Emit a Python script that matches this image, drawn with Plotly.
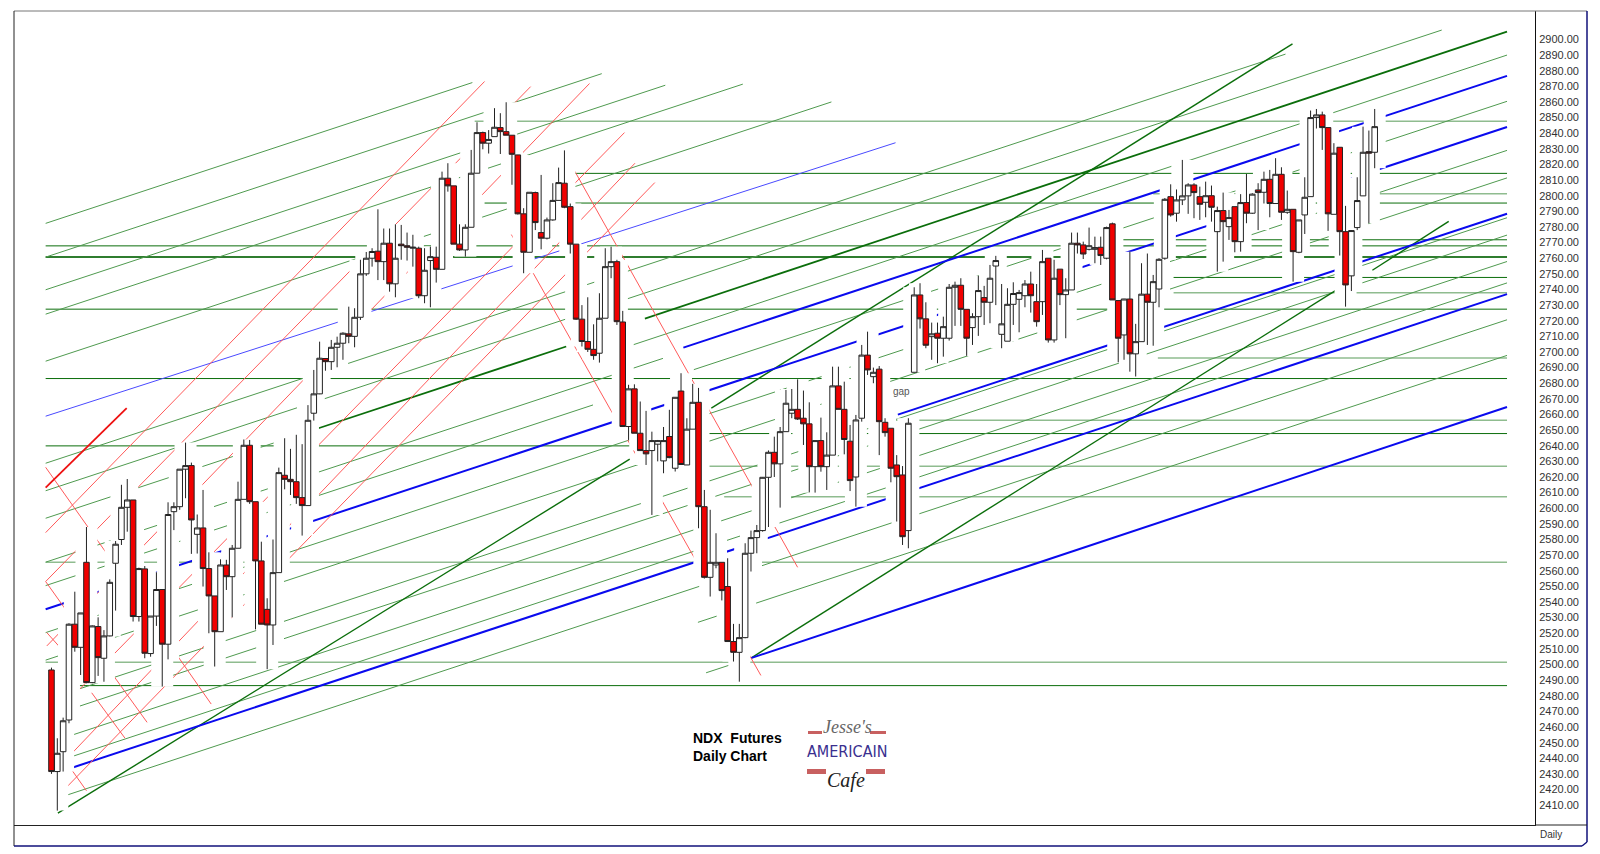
import plotly.graph_objects as go

# ---- candles ----
opens = [2496.5,2431.5,2444.2,2464.5,2525.8,2511,2565.4,2488.4,2524.3,2504,
2518.3,2564.8,2580,2600.6,2605.3,2530.7,2561.2,2507,2531,2548,
2513,2597.8,2601,2625,2627.3,2583.3,2587.4,2561.4,2543.9,2521,
2563.7,2556.2,2574.4,2605.7,2640.3,2604.2,2566.3,2535.3,2525.3,2558.8,
2621.1,2618.5,2617,2606.8,2601.7,2660.8,2673.2,2695.8,2693.8,2703,
2705.6,2711.6,2710,2722.2,2750,2760,2764.5,2757.8,2769.6,2743.6,
2769,2768,2766.4,2766.4,2736,2758.5,2760.6,2752.9,2811.2,2806.3,
2769,2765.3,2779.8,2814.4,2840.4,2833.6,2837.8,2843.6,2841,2838.7,
2826.1,2788.4,2763.8,2802,2776.4,2772.8,2784.5,2797,2808,2793,
2769,2721,2706.7,2701.7,2699.2,2721.6,2754.6,2757.8,2719.2,2652.3,
2676.4,2648,2636.9,2636.9,2641,2630.3,2645.9,2625.6,2675,2627.7,
2650.6,2667.8,2601,2555.8,2563.7,2565.4,2549.9,2514.7,2507.8,2517.2,
2571.2,2581.2,2585.7,2619.8,2635.8,2628.4,2649,2660.8,2663.3,2657.6,
2654,2626.6,2643.3,2626.6,2634,2678.3,2663.3,2642.9,2620,2657.6,
2698,2684.2,2689,2655,2651.2,2627.7,2621.3,2585.7,2687,2736.5,
2721.2,2709.8,2712,2708.8,2708.8,2741.4,2742.7,2727.3,2715.6,2722.6,
2734.8,2731.8,2755,2711.3,2706.9,2730.5,2733.7,2736,2743.5,2732.2,
2732.2,2760,2707.7,2753,2736.7,2739.7,2769.6,2768.5,2765.7,2765.7,
2767,2760,2782,2732.9,2710.9,2733.9,2698.8,2706.6,2737,2731.8,
2740.3,2760,2799.4,2788.8,2797.3,2799.9,2806.9,2799.4,2795.8,2800,
2777,2790.5,2780.2,2793,2770.6,2795.6,2788.8,2803.7,2802.2,2810.5,
2795,2813.7,2789.4,2791.3,2763.8,2787.7,2799.4,2850,2851.7,2843.6,
2788.1,2831,2777,2748.7,2779.6,2799.9,2828.2,2827.8]
closes = [2431.5,2443.2,2464,2525.8,2511,2533,2488.4,2524.7,2504.4,2518.3,
2552.6,2577,2600.6,2605.3,2530.7,2561.4,2507.2,2531,2548,2513,
2596,2601,2625,2627.3,2592.5,2587.4,2561.4,2543.9,2521,2563.7,
2556.2,2574.4,2605.7,2640.3,2604.2,2566.3,2525.8,2525.3,2558.8,2622.8,
2618.5,2617,2606.8,2601.7,2656.3,2673.2,2696,2693.8,2703,2705.6,
2712,2710,2722.2,2750,2760,2764.3,2757.8,2769.6,2743.6,2760,
2768,2767,2767,2736,2752.3,2761,2752.9,2811.2,2806.3,2769,
2765.3,2779.8,2814.4,2840.4,2833.6,2836,2843.8,2841,2838.7,2826.5,
2788.4,2763.8,2802.2,2782.8,2772.8,2784.5,2797,2808.4,2792.6,2769,
2721,2706.7,2701.7,2697.7,2721.6,2754.6,2757.8,2719.4,2652.3,2676.4,
2648,2636.9,2634.8,2643.3,2643.3,2643.3,2632.4,2671,2628,2650.6,
2667.8,2601,2555.8,2565.4,2565.4,2547.3,2514.7,2507.8,2517.2,2571.2,
2581.2,2585.7,2619.8,2635.8,2628.4,2649,2667.2,2663.3,2657.1,2654,
2626.6,2643.3,2626.6,2634,2678.3,2663.3,2644,2617.7,2656.5,2698,
2688.5,2687,2655.4,2648.4,2625.6,2620.2,2581.8,2654.4,2736.5,2721.2,
2704.3,2711.6,2708.8,2716.2,2741.4,2742.7,2727.3,2708.8,2722.6,2739.3,
2731.8,2747.2,2758.5,2718,2730.5,2737.4,2738,2743.5,2736,2719.4,
2757.8,2707.7,2747.2,2736.7,2739.7,2769.6,2768.5,2762.7,2768,2766.8,
2761.7,2779.6,2733.3,2708.8,2733.9,2698.8,2706.6,2737,2731.8,2745,
2759.3,2797.7,2787.7,2797.3,2799.9,2806.9,2802,2794.5,2800,2792.6,
2790.5,2783.4,2786,2770.6,2795.6,2788.8,2801,2802,2810.5,2795,
2813.7,2789.4,2791.3,2764.2,2784.5,2799,2850,2851.7,2843.6,2788.4,
2827.2,2777,2742.9,2777.7,2796.9,2827.8,2827.2,2844.2]
highs = [2498,2452.8,2466,2526.4,2546.6,2533,2588,2525,2530.2,2522,
2554.5,2579,2615,2618.7,2605.3,2562,2563,2531,2559,2548,
2603.8,2603.8,2625,2642,2629.2,2596,2611.7,2571.8,2543.9,2567.3,
2567,2576.5,2617,2644,2643.7,2604.2,2578.6,2542.4,2580,2626,
2644.8,2638,2647,2641,2666,2688.5,2706.6,2696,2707.7,2709.8,
2712.6,2729,2728,2759,2764,2766.4,2791.3,2779,2779,2781.7,
2781.3,2776.4,2775,2767.4,2766.4,2767.4,2767.4,2815.4,2820.8,2806.3,
2781.7,2781.7,2829.3,2847,2841,2842,2856,2852.8,2859.8,2838.7,
2826,2792,2802.2,2802.6,2813.3,2786,2808,2818,2829,2795,
2769,2730,2735,2717.7,2737.6,2766.4,2767.4,2759,2726.3,2679,
2679.3,2668.3,2662.3,2649,2643.7,2652,2663,2671,2686.4,2657.6,
2679.6,2677,2611.7,2599,2584,2565.4,2568,2526,2526,2577.6,
2585.7,2589.3,2620,2637,2645.8,2652,2675.7,2676.3,2682.5,2675.3,
2667.8,2643.3,2658,2648.6,2690.6,2690.6,2681,2653.3,2659.7,2704.5,
2713,2690,2691,2657.6,2651.2,2634,2627,2657.6,2741.4,2744,
2731.8,2718.8,2718.8,2722.6,2743.5,2745,2747.2,2727.3,2724.8,2748.7,
2742.3,2755.7,2761.5,2743.5,2740.8,2744.6,2739.7,2746,2751.4,2743.5,
2765.3,2760,2759,2753,2747.2,2776.4,2776.4,2770.6,2779.6,2773.8,
2773.8,2780.2,2782.8,2732.9,2734,2764.2,2718,2756.8,2763,2749.3,
2760,2798.5,2807.3,2804,2822.9,2808,2808,2805.8,2809,2806.5,
2793,2802,2790.9,2793,2801,2813.9,2801.6,2808,2815.4,2816.5,
2824,2818.2,2803.3,2791.3,2784.5,2811.8,2854.5,2855.5,2853.8,2843.6,
2833.6,2831,2793.5,2778,2811.8,2844.2,2841.7,2855.5]
lows = [2430,2406.5,2431.5,2462.4,2508.2,2493.3,2488,2488,2492.7,2489,
2518,2534.5,2576.5,2585,2527.5,2527.5,2504,2505,2524.7,2485.9,
2503.3,2586,2599,2606.4,2570.8,2571,2549.9,2520,2498.7,2521,
2547.7,2530.2,2574.4,2605.7,2602.8,2522.5,2525.8,2497,2512.5,2558.8,
2612.1,2608.5,2602.8,2582.5,2601.7,2656.1,2673,2688,2688.5,2690.2,
2695,2705.6,2703,2720.5,2748.7,2754.6,2746,2746,2738.6,2735,
2759,2758.5,2754.6,2734.4,2731.2,2728.6,2744.4,2752.9,2802.6,2769,
2764.7,2761,2779.8,2814.4,2829.7,2827,2837.8,2826.7,2838.7,2807,
2788,2750.4,2763.8,2778,2765.7,2772,2784,2797,2792,2763,
2720.5,2703.5,2700,2695,2693.2,2721.6,2747.2,2717.3,2652.3,2643.7,
2648,2636.9,2627.7,2595.7,2630,2622.4,2632,2623.5,2628,2627.7,
2650.6,2587.2,2555,2543.5,2561.6,2541,2514.7,2501.9,2489,2516.8,
2559.5,2571.2,2585,2588,2620,2600.4,2649,2657.6,2656.5,2640.5,
2610.2,2610,2623.4,2611.7,2634,2663.3,2634.5,2611,2601,2655.4,
2685.3,2680,2634,2645.8,2616.6,2591.5,2576.5,2574.4,2687,2715,
2702.4,2695,2692.8,2697,2707.3,2716.7,2716.7,2697.5,2704.5,2710.3,
2717.3,2718.4,2730,2702.4,2706.9,2717.3,2712.6,2728.6,2725.2,2716.2,
2723.7,2706,2706,2730,2708.8,2739.7,2763,2759.5,2765,2756.8,
2755.7,2759.3,2733.3,2693.4,2695,2687.4,2684.3,2706.6,2704.5,2704,
2728.6,2759,2786.6,2783.4,2794,2788.4,2785.6,2784.5,2786.2,2783.4,
2751.4,2757.8,2771.7,2763.8,2764.2,2782.4,2788.4,2778,2795,2786.2,
2795,2784.5,2788.4,2745,2763.2,2775.5,2799.4,2843,2829.3,2777.5,
2788.1,2761.7,2729,2739,2778,2799.9,2782.4,2817.6]
bars = list(range(len(opens)))

# ---- trend lines: (bar0, price0, bar1, price1) ----
green_thin = [(-1,2782.3,72.2,2872.4),(-1,2760.7,94.4,2878.1),(-1,2739.8,105.3,2870.7),
 (-1,2724.2,118.6,2871.4),(-1,2694.1,133.8,2860),(-1,2628.8,211.7,2890.6),
 (-1,2611.2,238.5,2906),(-1,2593.6,45.8,2651.2),(99.3,2704,249.7,2890),
 (-1,2565.5,104.9,2695.9),(-1,2550.5,92.9,2666.1),(110.2,2688.7,249.7,2860.4),
 (-1,2520.4,249.7,2829),(-1,2502.8,249.7,2811.4),(-1,2477.3,249.7,2785.9),
 (-1,2466.2,249.7,2774.8),(1.8,2452.7,249.7,2757.9),(1.8,2439,249.7,2744.2),
 (1.8,2415.4,249.7,2720.6),(110.9,2527,249.7,2697.8),(112.3,2494.7,116.3,2499.6)]
green_thick = [(45.8,2651.2,88.3,2703.5),(101.8,2721.4,249.7,2905)]
green_steep = [(1.1,2404.9,99.2,2631.4),(113.2,2664.1,212.9,2897.2),
 (120,2504.1,220.8,2740.5),(226.6,2752.3,239.7,2783.6)]
blue_thin = [(-1,2658.9,144.8,2833.9)]
blue_thick = [(-1,2535.4,249.7,2844),(108.4,2702.8,249.7,2876.7),(145.2,2659.9,249.7,2788.5),
 (2.5,2432.7,249.7,2737),(120,2504.1,249.7,2664.8)]
red_thin = [(-1,2584.4,74.3,2873.1),(-1,2553.1,82.2,2869.8),(-0.8,2511.9,92.3,2871.8),
 (0.8,2468.9,98.3,2840.4),(2.9,2440.8,100.1,2820.8),(1.5,2417.3,103.5,2808.4),
 (88.5,2824.1,128,2562.2),(78.9,2775.1,121.7,2493),(-1,2626.2,9.9,2568.8),
 (-1,2553.1,2.5,2534.8),(-0.8,2520.4,2,2508.7),(10.1,2495.6,16.4,2463),
 (6.9,2481.9,12.6,2452.9),(21.4,2506.7,27.4,2474.7),(2.9,2435.6,6,2419.2)]
red_thick = [(-1,2613.2,12.9,2664.1)]

# ---- horizontal levels: (price, first bar, last bar) ----
levels_dark = [(2814.3,88.3,249.7),(2795.3,74.3,249.7),(2771.8,180.2,249.7),(2767.9,-1,249.7),
 (2747.7,192.5,249.7),(2727.4,-1,249.7),(2683,-1,249.7),(2647.8,112.5,249.7),
 (2639.9,-1,103.2),(2486.5,-1,249.7)]
levels_pale = [(2847.6,72.6,249.7),(2801.2,189,249.7),(2737.9,192.5,249.7),(2696.1,189.8,249.7),
 (2656.3,143.5,249.7),(2626.9,112.8,249.7),(2607.3,115.4,249.7),(2565.5,-1,249.7),(2501.5,-1,249.7)]
levels_thick = [(2760.7,-1,249.7)]

price_ticks = list(range(2410, 2901, 10))
tick_labels = [f"{t:.2f}" for t in price_ticks]

GREEN_DARK, GREEN_MID, GREEN_PALE = "#0b6e0b", "#4f9a4f", "#8fbc8f"

def seg_xy(segs):
    xs, ys = [], []
    for a, b, c, d in segs:
        xs += [a, c, None]
        ys += [b, d, None]
    return xs, ys

def lvl_xy(lvls):
    xs, ys = [], []
    for p, a, b in lvls:
        xs += [a, b, None]
        ys += [p, p, None]
    return xs, ys

fig = go.Figure()

def add(xy, color, width):
    fig.add_trace(go.Scatter(x=xy[0], y=xy[1], mode="lines", hoverinfo="skip",
                             line=dict(color=color, width=width), connectgaps=False))

add(lvl_xy(levels_pale), GREEN_PALE, 1.5)
add(lvl_xy(levels_dark), GREEN_DARK, 1)
add(lvl_xy(levels_thick), "#2f7d2f", 2)
add(seg_xy(green_thin), GREEN_MID, 1)
add(seg_xy(green_thick), GREEN_DARK, 1.8)
add(seg_xy(green_steep), GREEN_DARK, 1.4)
add(seg_xy(blue_thin), "#4a4aff", 1)
add(seg_xy(blue_thick), "#0a0aee", 2)
add(seg_xy(red_thin), "#ff5a5a", 1)
add(seg_xy(red_thick), "#ee1111", 1.8)

# the source erases the lines around each bar: wide white band behind the candles
hx, hy = [], []
for i, l, h in zip(bars, lows, highs):
    hx += [i, i, None]
    hy += [l, h, None]
add((hx, hy), "#ffffff", 22)

# candles live on an overlaying pair of axes so they sit above the line layer
fig.add_trace(go.Candlestick(
    x=bars, open=opens, high=highs, low=lows, close=closes, xaxis="x2", yaxis="y2",
    increasing=dict(line=dict(color="#222222", width=1), fillcolor="#ffffff"),
    decreasing=dict(line=dict(color="#222222", width=1), fillcolor="#f00000"),
    whiskerwidth=0, hoverinfo="skip"))

L, R, T, B = 14, 1535, 11, 825
def px(x): return (x - L) / (R - L)
def py(y): return (B - y) / (B - T)

def frame(x0, y0, x1, y1, color, w=1):
    return dict(type="line", xref="paper", yref="paper", x0=px(x0), y0=py(y0), x1=px(x1), y1=py(y1),
                line=dict(color=color, width=w))
def rect(x0, y0, x1, y1, color):
    return dict(type="rect", xref="paper", yref="paper", x0=px(x0), y0=py(y0), x1=px(x1), y1=py(y1),
                fillcolor=color, line=dict(width=0))

shapes = [
    frame(14, 11, 1587, 11, "#777777"),
    frame(14, 11, 14, 846, "#222222"),
    frame(1587, 11, 1587, 842, "#10107a", 1.5),
    frame(14, 846, 1582, 846, "#10107a", 1.5),
    frame(1582, 846, 1587, 842, "#10107a", 1.5),
    frame(1535, 825, 1587, 825, "#222222"),
    rect(808, 731, 822, 734, "#c86060"), rect(870, 731, 886, 734, "#c86060"),
    rect(807, 769, 826, 774, "#c86060"), rect(866, 769, 885, 774, "#c86060"),
]

def note(x, y, text, size, color, family="Liberation Sans", anchor="left"):
    return dict(xref="paper", yref="paper", x=px(x), y=py(y), text=text, showarrow=False,
                xanchor=anchor, yanchor="middle", font=dict(family=family, size=size, color=color))

annotations = [
    note(691, 738, "<b>NDX  Futures</b>", 14, "#000000"),
    note(691, 756, "<b>Daily Chart</b>", 14, "#000000"),
    note(847, 727, "<i>Jesse's</i>", 18, "#666666", "Liberation Serif", "center"),
    note(847, 751, "AMERICAIN", 16, "#3a2f8f", "DejaVu Sans Condensed", "center"),
    note(846, 780, "<i>Cafe</i>", 20, "#222222", "Liberation Serif", "center"),
    note(1551, 834, "Daily", 10, "#333333", "Liberation Sans", "center"),
    dict(x=145.8, y=2674.4, xref="x", yref="y", text="gap", showarrow=False,
         font=dict(family="Liberation Sans", size=10, color="#555555")),
]

X_RANGE = [-6.43, 254.5]
Y_RANGE = [2397.3, 2918.2]
fig.update_layout(
    width=1600, height=854, showlegend=False, paper_bgcolor="#ffffff", plot_bgcolor="#ffffff",
    margin=dict(l=L, r=1600 - R, t=T, b=854 - B, pad=0, autoexpand=False),
    boxgap=0.05, boxgroupgap=0, shapes=shapes, annotations=annotations,
    xaxis=dict(range=X_RANGE, showgrid=False, zeroline=False, showticklabels=False, ticks="",
               showline=True, linecolor="#222222", linewidth=1),
    yaxis=dict(range=Y_RANGE, side="right", showgrid=False, zeroline=False,
               tickmode="array", tickvals=price_ticks, ticktext=tick_labels,
               ticks="outside", ticklen=1, tickcolor="#ffffff",
               tickfont=dict(family="Liberation Sans", size=11, color="#333333"),
               showline=True, linecolor="#111111", linewidth=1),
    xaxis2=dict(range=X_RANGE, overlaying="x", visible=False, rangeslider=dict(visible=False)),
    yaxis2=dict(range=Y_RANGE, overlaying="y", visible=False),
)

fig.write_html("out.html", config=dict(displayModeBar=False),
               post_script="document.body.style.margin='0';document.body.style.overflow='hidden';")
